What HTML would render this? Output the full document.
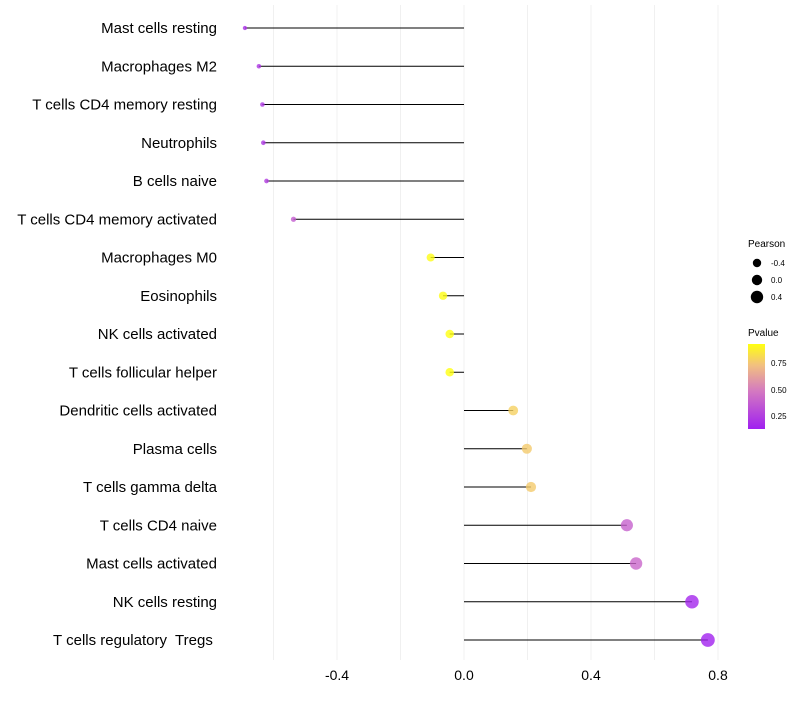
<!DOCTYPE html>
<html><head><meta charset="utf-8"><style>
body{margin:0;background:#fff;font-family:"Liberation Sans",sans-serif;}
svg text{font-family:"Liberation Sans",sans-serif;white-space:pre;}
</style></head><body>
<svg id="chart" width="800" height="700">
<defs><linearGradient id="pg" x1="0" y1="1" x2="0" y2="0">
<stop offset="0" stop-color="#a020f0"/><stop offset="0.45" stop-color="#d47ac0"/><stop offset="0.75" stop-color="#f2c080"/><stop offset="1" stop-color="#ffff10"/></linearGradient></defs>
<g id="grid"></g><g id="marks"></g><g id="labels"></g>
<g>
<text x="748" y="247" font-size="10">Pearson</text>
<circle cx="757" cy="263" r="4.2" fill="#000"/><text x="771" y="266" font-size="8">-0.4</text>
<circle cx="757" cy="280" r="5.2" fill="#000"/><text x="771" y="283" font-size="8">0.0</text>
<circle cx="757" cy="297" r="6.2" fill="#000"/><text x="771" y="300" font-size="8">0.4</text>
<text x="748" y="336" font-size="10">Pvalue</text>
<rect x="748" y="344" width="17" height="85" fill="url(#pg)"/>
<text x="771" y="366" font-size="8">0.75</text>
<text x="771" y="393" font-size="8">0.50</text>
<text x="771" y="419" font-size="8">0.25</text>
</g>
</svg>
<script>
const categories=["Mast cells resting","Macrophages M2","T cells CD4 memory resting","Neutrophils","B cells naive","T cells CD4 memory activated","Macrophages M0","Eosinophils","NK cells activated","T cells follicular helper","Dendritic cells activated","Plasma cells","T cells gamma delta","T cells CD4 naive","Mast cells activated","NK cells resting","T cells regulatory  Tregs "];
const pearson=[-0.69,-0.646,-0.635,-0.632,-0.622,-0.537,-0.105,-0.066,-0.045,-0.045,0.155,0.198,0.211,0.513,0.542,0.718,0.768];
const pvalue=[0.22,0.24,0.25,0.25,0.27,0.4,0.96,0.96,0.97,0.97,0.82,0.8,0.8,0.42,0.44,0.18,0.16];
const xticks=[-0.4,0,0.4,0.8];
const xtickLabels=["-0.4","0.0","0.4","0.8"];
const gridVals=[-0.6,-0.4,-0.2,0,0.2,0.4,0.6,0.8];
const NS="http://www.w3.org/2000/svg";
const x=v=>464+v*317.5;
const y=i=>28+i*38.25;
const rad=v=>4.4+3.3*v;
function col(p){const t=Math.max(0,Math.min(1,(p-0.15)/0.82));
const st=[[0,[160,32,240]],[0.45,[212,122,192]],[0.75,[242,192,128]],[1,[255,255,16]]];
for(let k=1;k<st.length;k++){if(t<=st[k][0]){const a=st[k-1],b=st[k],f=(t-a[0])/(b[0]-a[0]);return "rgb("+a[1].map((c,j)=>Math.round(c+(b[1][j]-c)*f)).join(",")+")";}}return "rgb(255,255,16)";}
function mk(tag,at,parent){const e=document.createElementNS(NS,tag);for(const k in at)e.setAttribute(k,at[k]);document.getElementById(parent).appendChild(e);return e;}
gridVals.forEach(v=>{const l=mk("line",{x1:x(v),x2:x(v),y1:5,y2:660,stroke:"#f0f0f0","stroke-width":1},"grid");

});
xticks.forEach((v,i)=>{const t=mk("text",{x:x(v),y:680,"font-size":14,"text-anchor":"middle"},"labels");t.textContent=xtickLabels[i];

});
categories.forEach((c,i)=>{
const t=mk("text",{x:217,y:y(i)+5,"font-size":15,"text-anchor":"end"},"labels");t.textContent=c;


const l=mk("line",{x1:x(0),x2:x(pearson[i]),y1:y(i),y2:y(i),stroke:"#000","stroke-width":1},"marks");


const d=mk("circle",{cx:x(pearson[i]),cy:y(i),r:rad(pearson[i]),fill:col(pvalue[i]),"fill-opacity":0.8},"marks");


});
</script>
</body></html>
